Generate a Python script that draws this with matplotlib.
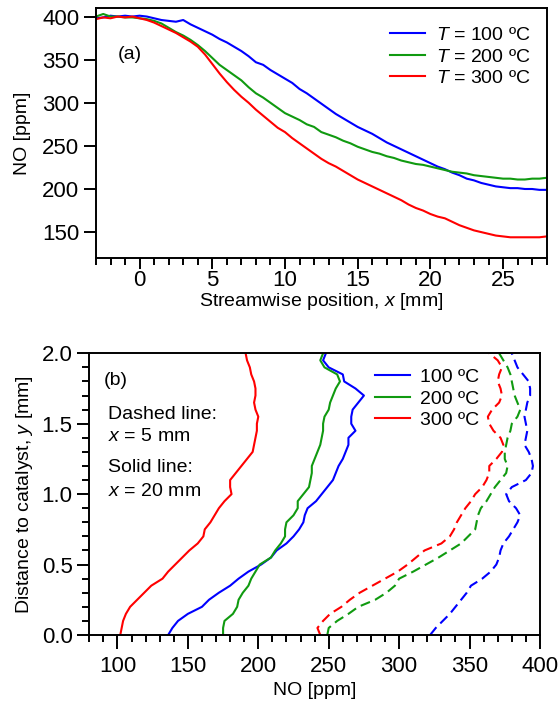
import numpy as np
import matplotlib
matplotlib.use("Agg")
import matplotlib.pyplot as plt
from matplotlib.ticker import MultipleLocator, FormatStrFormatter

matplotlib.rcParams['font.family'] = ['Liberation Sans', 'DejaVu Sans']
matplotlib.rcParams['font.size'] = 14
matplotlib.rcParams['mathtext.fontset'] = 'custom'
matplotlib.rcParams['mathtext.it'] = 'Liberation Sans:italic'
matplotlib.rcParams['mathtext.rm'] = 'Liberation Sans'

# ---- panel (a): NO along the streamwise direction ----
x_pos = [-3, -2.5, -2, -1.5, -1, -0.5, 0, 0.5, 1, 1.5, 2, 2.5, 3, 3.5, 4, 4.5,
         5, 5.5, 6, 6.5, 7, 7.5, 8, 8.5, 9, 9.5, 10, 10.5, 11, 11.5, 12, 12.5,
         13, 13.5, 14, 14.5, 15, 15.5, 16, 16.5, 17, 17.5, 18, 18.5, 19, 19.5,
         20, 20.5, 21, 21.5, 22, 22.5, 23, 23.5, 24, 24.5, 25, 25.5, 26, 26.5,
         27, 27.5, 28]

no_100 = [398, 399, 401, 400, 401, 400, 401, 400, 398, 396, 395, 394, 396, 391, 387, 383,
          379, 374, 370, 365, 360, 354, 347, 344, 338, 333, 328, 323, 316, 311, 305, 299,
          293, 287, 282, 277, 272, 268, 264, 259, 254, 250, 246, 242, 238, 234,
          230, 226, 223, 219, 216, 212, 210, 207, 205, 203, 202, 201, 201, 200,
          200, 199, 199]
no_200 = [400, 403, 400, 400, 399, 399, 398, 397, 395, 392, 387, 382, 378, 373, 367, 360,
          352, 344, 338, 332, 326, 318, 311, 306, 300, 294, 288, 284, 280, 275, 272, 266,
          263, 260, 256, 253, 249, 246, 243, 241, 238, 236, 233, 231, 229, 228,
          226, 224, 222, 220, 219, 218, 216, 215, 214, 213, 212, 212, 211, 211,
          212, 212, 213]
no_300 = [397, 399, 398, 400, 399, 400, 398, 396, 393, 389, 385, 381, 376, 371, 365, 356,
          345, 334, 324, 315, 307, 300, 292, 285, 278, 271, 266, 259, 253, 247, 241, 235,
          230, 226, 221, 216, 211, 207, 203, 199, 195, 191, 187, 182, 178, 175,
          171, 168, 166, 162, 158, 155, 152, 150, 148, 146, 145, 144, 144, 144,
          144, 144, 145]

# ---- panel (b): NO profiles normal to the catalyst ----
y_pos = [0.0, 0.05, 0.1, 0.15, 0.2, 0.25, 0.3, 0.35, 0.4, 0.45, 0.5, 0.55, 0.6, 0.65,
         0.7, 0.75, 0.8, 0.85, 0.9, 0.95, 1.0, 1.05, 1.1, 1.15, 1.2, 1.25, 1.3, 1.35,
         1.4, 1.45, 1.5, 1.55, 1.6, 1.65, 1.7, 1.75, 1.8, 1.85, 1.9, 1.95, 2.0]

# solid: x = 20 mm
x20_100 = [136, 139, 143, 150, 160, 165, 172, 180, 186, 193, 202, 209, 213, 220,
           225, 229, 232, 233, 235, 241, 245, 249, 253, 255, 257, 260, 262, 264,
           264, 269, 266, 266, 267, 271, 275, 269, 261, 260, 250, 246, 248]
x20_200 = [175, 175, 176, 182, 185, 186, 189, 193, 195, 198, 201, 209, 212, 216,
           219, 219, 220, 225, 228, 228, 232, 236, 237, 238, 238, 240, 242, 244,
           245, 246, 246, 247, 250, 251, 253, 255, 258, 256, 247, 244, 246]
x20_300 = [102, 103, 104, 106, 109, 114, 119, 124, 132, 136, 141, 146, 151, 157,
           161, 162, 166, 169, 172, 176, 181, 180, 180, 184, 188, 192, 196, 197,
           198, 199, 199, 200, 198, 197, 198, 198, 197, 195, 194, 192, 191]

# dashed: x = 5 mm
x5_100 = [322, 326, 331, 336, 340, 344, 348, 351, 359, 365, 369, 371, 372, 374,
          378, 381, 384, 386, 383, 378, 376, 380, 390, 394, 395, 394, 392, 389,
          390, 391, 390, 389, 390, 391, 393, 393, 392, 388, 384, 382, 380]
x5_200 = [249, 250, 256, 264, 271, 283, 291, 297, 300, 310, 319, 328, 336, 344,
          349, 354, 355, 356, 358, 362, 365, 368, 372, 376, 377, 375, 375, 376,
          377, 379, 380, 384, 386, 384, 382, 381, 380, 379, 377, 374, 371]
x5_300 = [244, 242, 246, 251, 259, 265, 272, 281, 290, 299, 306, 312, 318, 330,
          336, 339, 341, 344, 347, 351, 354, 359, 362, 364, 364, 369, 373, 374,
          372, 367, 364, 363, 366, 371, 373, 372, 370, 371, 373, 370, 364]

temps = ["100", "200", "300"]
colors = ["#0000ff", "#109a10", "#ff0000"]

fig = plt.figure(figsize=(5.58, 7.15), dpi=100)
ax1 = fig.add_axes([0.1720, 0.6392, 0.8077, 0.3497])
ax2 = fig.add_axes([0.1600, 0.1119, 0.8077, 0.3940])

lw = 1.5
for no, t, c in zip([no_100, no_200, no_300], temps, colors):
    ax1.plot(x_pos, no, color=c, lw=lw, label=r"$\mathit{T}$ = " + t + " ºC")

ax1.set_xlim(-3, 28)
ax1.set_ylim(120, 410)
ax1.xaxis.set_major_locator(MultipleLocator(5))
ax1.xaxis.set_minor_locator(MultipleLocator(1))
ax1.set_yticks([150, 200, 250, 300, 350, 400])
ax1.set_xlabel(r"Streamwise position, $\mathit{x}$ [mm]", labelpad=0.5)
ax1.set_ylabel("NO [ppm]", labelpad=8)
ax1.text(0.048, 0.812, "(a)", transform=ax1.transAxes, ha="left", va="center")
ax1.legend(loc="upper left", bbox_to_anchor=(0.652, 0.925), frameon=False,
           borderpad=0, borderaxespad=0, handlelength=1.8, handletextpad=0.57,
           labelspacing=0.2)

for xs, xd, t, c in zip([x20_100, x20_200, x20_300], [x5_100, x5_200, x5_300], temps, colors):
    ax2.plot(xs, y_pos, color=c, lw=lw, label=t + " ºC")
    ax2.plot(xd, y_pos, color=c, lw=lw, linestyle=(0, (4.8, 2.6)))

ax2.set_xlim(80, 400)
ax2.set_ylim(0, 2.0)
ax2.xaxis.set_major_locator(MultipleLocator(50))
ax2.xaxis.set_minor_locator(MultipleLocator(10))
ax2.yaxis.set_major_locator(MultipleLocator(0.5))
ax2.yaxis.set_minor_locator(MultipleLocator(0.1))
ax2.yaxis.set_major_formatter(FormatStrFormatter("%.1f"))
ax2.set_xlabel("NO [ppm]", labelpad=4)
ax2.set_ylabel(r"Distance to catalyst, $\mathit{y}$ [mm]", labelpad=5)
ax2.text(0.033, 0.905, "(b)", transform=ax2.transAxes, ha="left", va="center")
ax2.text(0.042, 0.781, "Dashed line:", transform=ax2.transAxes, ha="left", va="center")
ax2.text(0.042, 0.703, r"$\mathit{x}$ = 5 mm", transform=ax2.transAxes, ha="left", va="center")
ax2.text(0.042, 0.593, "Solid line:", transform=ax2.transAxes, ha="left", va="center")
ax2.text(0.042, 0.511, r"$\mathit{x}$ = 20 mm", transform=ax2.transAxes, ha="left", va="center")
ax2.legend(loc="upper left", bbox_to_anchor=(0.634, 0.946), frameon=False,
           borderpad=0, borderaxespad=0, handlelength=1.8, handletextpad=0.52,
           labelspacing=0.2)

for ax in (ax1, ax2):
    for s in ax.spines.values():
        s.set_linewidth(1.4)
    ax.tick_params(which="both", direction="out", top=False, right=False, width=1.4,
                   labelsize=16)
    ax.tick_params(which="minor", length=5)
    ax.tick_params(axis="y", which="major", length=9, pad=3)

ax1.tick_params(axis="x", which="major", length=8, pad=0.5)
ax2.tick_params(axis="x", which="major", length=10, pad=5)

fig.savefig("out.png", dpi=100)
